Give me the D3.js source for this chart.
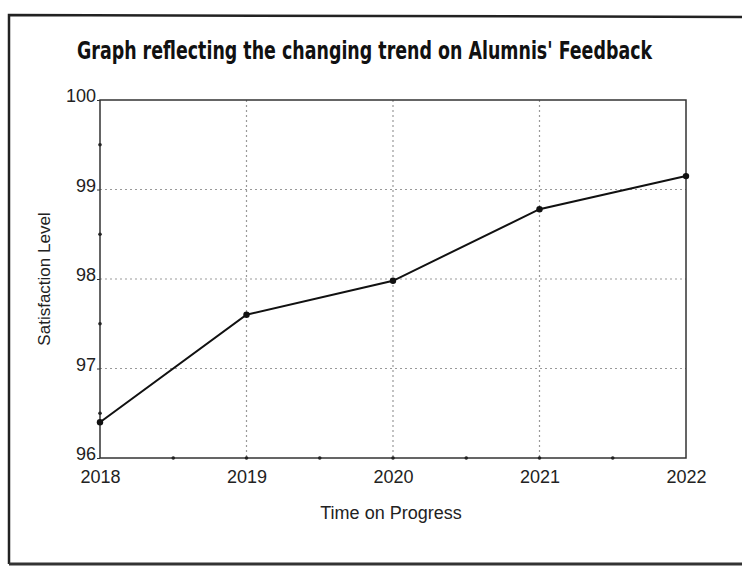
<!DOCTYPE html>
<html>
<head>
<meta charset="utf-8">
<script src="https://cdn.jsdelivr.net/npm/d3@7"></script>
<style>
  body { margin: 0; background: #fff; }
  svg { display: block; }
</style>
</head>
<body>
<svg id="chart" width="742" height="566"></svg>
<script>
// data
const years = [2018, 2019, 2020, 2021, 2022];
const satisfaction = [96.4, 97.6, 97.98, 98.78, 99.15];
const yTicks = [96, 97, 98, 99, 100];
const yMinor = [96.5, 97.5, 98.5, 99.5];
const xMinor = [2018.5, 2019.5, 2020.5, 2021.5];

const titleText = "Graph reflecting the changing trend on Alumnis' Feedback";
const xTitle = "Time on Progress", yTitle = "Satisfaction Level";

const svg = d3.select("#chart");
const m = { left: 100, right: 686, top: 100, bottom: 458 };
const font = "'Liberation Sans', Arial, sans-serif";

const x = d3.scaleLinear().domain([2018, 2022]).range([m.left, m.right]);
const y = d3.scaleLinear().domain([96, 100]).range([m.bottom, m.top]);

// scanned page frame
svg.append("path")
    .attr("d", "M9,564 L9,15 L742,17")
    .attr("fill", "none").attr("stroke", "#222").attr("stroke-width", 2.5);
svg.append("line")
    .attr("x1", 9).attr("x2", 742).attr("y1", 564).attr("y2", 564)
    .attr("stroke", "#333").attr("stroke-width", 3);

// title (condensed bold, squeezed sideways and stretched up like the scan)
svg.append("text")
    .attr("transform", "translate(77,59) scale(0.923,1.18)")
    .style("font-family", "'DejaVu Sans Condensed', 'Liberation Sans Narrow', sans-serif")
    .style("font-weight", "bold").style("font-size", "21px")
    .attr("fill", "#111")
    .text(titleText);

// dotted grid
const grid = svg.append("g").attr("stroke", "#999").attr("stroke-width", 1.2).attr("stroke-dasharray", "2,3");
grid.selectAll(".gy").data(yTicks.slice(1, -1)).join("line")
    .attr("x1", m.left).attr("x2", m.right)
    .attr("y1", d => y(d)).attr("y2", d => y(d));
grid.selectAll(".gx").data(years.slice(1, -1)).join("line")
    .attr("y1", m.top).attr("y2", m.bottom)
    .attr("x1", d => x(d)).attr("x2", d => x(d));

// plot box
svg.append("rect")
    .attr("x", m.left).attr("y", m.top)
    .attr("width", m.right - m.left).attr("height", m.bottom - m.top)
    .attr("fill", "none").attr("stroke", "#333").attr("stroke-width", 1.5);

// axes
const yAxis = svg.append("g").attr("transform", `translate(${m.left},0)`)
    .call(d3.axisLeft(y).tickValues(yTicks).tickSize(3).tickPadding(1).tickFormat(d3.format("d")));
yAxis.selectAll(".tick text").attr("dy", "0.1em");
const xAxis = svg.append("g").attr("transform", `translate(0,${m.bottom})`)
    .call(d3.axisBottom(x).tickValues(years).tickSize(0).tickPadding(12).tickFormat(d3.format("d")));
[yAxis, xAxis].forEach(a => {
    a.select(".domain").remove();
    a.selectAll("line").attr("stroke", "#333");
    a.selectAll("text")
        .style("font-family", font)
        .style("font-size", "18px").attr("fill", "#222");
});

// minor tick marks (small dots on the axes)
svg.append("g").selectAll("circle").data(yMinor).join("circle")
    .attr("cx", m.left).attr("cy", d => y(d)).attr("r", 1.8).attr("fill", "#222");
svg.append("g").selectAll("circle").data(xMinor.concat(years.slice(1, -1))).join("circle")
    .attr("cx", d => x(d)).attr("cy", m.bottom).attr("r", 1.8).attr("fill", "#222");

// axis titles
svg.append("text")
    .attr("x", 391).attr("y", 519).attr("text-anchor", "middle")
    .style("font-family", font).style("font-size", "18px")
    .attr("fill", "#222").text(xTitle);
svg.append("text")
    .attr("transform", `translate(50,${(m.top + m.bottom) / 2}) rotate(-90)`)
    .attr("text-anchor", "middle")
    .style("font-family", font).style("font-size", "17px")
    .attr("fill", "#222").text(yTitle);

// data line
const line = d3.line().x((d, i) => x(years[i])).y(d => y(d));
svg.append("path").datum(satisfaction)
    .attr("d", line).attr("fill", "none")
    .attr("stroke", "#111").attr("stroke-width", 2);
svg.append("g").selectAll("circle").data(satisfaction).join("circle")
    .attr("cx", (d, i) => x(years[i])).attr("cy", d => y(d))
    .attr("r", 3.2).attr("fill", "#111");
</script>
</body>
</html>
